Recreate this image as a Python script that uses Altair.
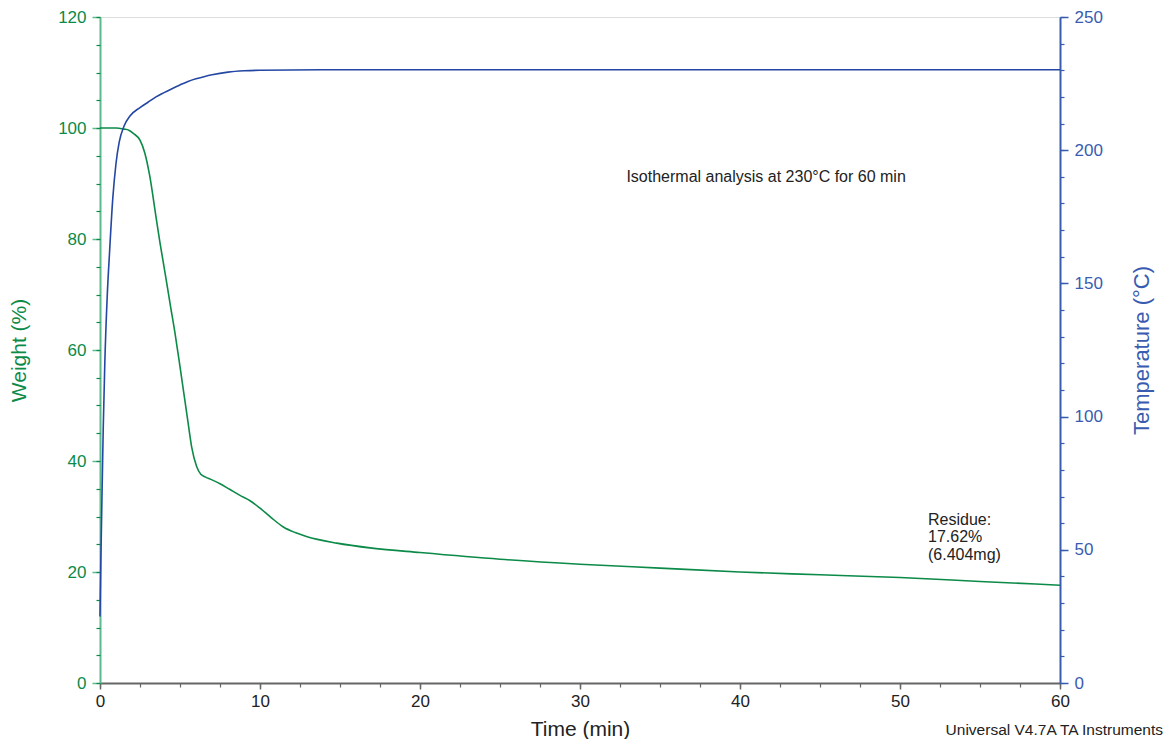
import altair as alt
import pandas as pd

# Weight curve (time in min, weight in %)
w_time = [0, 0.5, 1.0, 1.5, 1.8, 2.1, 2.5, 2.8, 3.1, 3.5, 3.75, 4.06, 4.4, 4.69, 5.0, 5.2,
          5.5, 5.73, 6.04, 6.3, 6.6, 7.0, 7.5, 8.1, 8.75, 9.4, 10.0, 10.7, 11.46, 12.2, 12.9,
          14.8, 17, 20, 25, 30, 35, 40, 45, 50, 55, 60]
w_value = [100, 100, 100, 99.8, 99.6, 99.0, 97.8, 95.5, 91.5, 84, 79.3, 74, 68, 63, 57, 53,
           47, 42.5, 39, 37.6, 37.1, 36.6, 35.9, 34.9, 33.8, 32.8, 31.5, 29.8, 28.1, 27.1, 26.4,
           25.2, 24.3, 23.5, 22.3, 21.4, 20.7, 20.0, 19.5, 19.0, 18.3, 17.62]

# Temperature curve (time in min, temperature in °C)
t_time = [0, 0.05, 0.1, 0.2, 0.3, 0.45, 0.6, 0.8, 1.0, 1.2, 1.5, 1.9, 2.5, 3.0, 3.5, 4.0,
          4.5, 5.0, 5.5, 6.0, 6.5, 7.0, 8.0, 9.0, 10, 15, 30, 45, 60]
t_value = [25, 45, 62, 95, 120, 145, 162, 182, 195, 203, 209, 213, 216, 218, 220, 221.6,
           223.1, 224.5, 225.8, 226.8, 227.6, 228.3, 229.3, 229.8, 230, 230.2, 230.2, 230.2, 230.2]

x_major = [0, 10, 20, 30, 40, 50, 60]
x_minor = [v * 2.5 for v in range(0, 25)]
w_major = [0, 20, 40, 60, 80, 100, 120]
w_minor = list(range(0, 121, 5))
t_major = [0, 50, 100, 150, 200, 250]
t_minor = list(range(0, 251, 10))

ann_iso = "Isothermal analysis at 230°C for 60 min"
ann_res = ["Residue:", "17.62%", "(6.404mg)"]
footer = "Universal V4.7A TA Instruments"

GREEN = "#0b8a48"
GREEN_AX = "#5dba8c"
BLUE = "#2447a3"
BLUE_AX = "#3a5cb0"
GRAY = "#666666"
FONT = "Liberation Sans"

wdf = pd.DataFrame({"time": w_time, "weight": w_value})
tdf = pd.DataFrame({"time": t_time, "temp": t_value})

xs = alt.Scale(domain=[0, 60], nice=False)
ws = alt.Scale(domain=[0, 120], nice=False)
ts = alt.Scale(domain=[0, 250], nice=False)

weight = alt.Chart(wdf).mark_line(color=GREEN, strokeWidth=1.6, interpolate="monotone").encode(
    x=alt.X("time:Q", scale=xs, axis=alt.Axis(
        orient="bottom", values=x_major, title="Time (min)", titleFontSize=21, titleFont=FONT,
        titleFontWeight="normal", titleColor="#222222", titleY=52, titleBaseline="alphabetic",
        labelFont=FONT, labelFontSize=17, labelColor="#222222", labelPadding=4,
        domainColor=GRAY, domainWidth=2, tickColor=GRAY, tickSize=6, tickWidth=1.5,
        grid=False, labelFlush=False)),
    y=alt.Y("weight:Q", scale=ws, axis=alt.Axis(
        orient="left", values=w_major, title="Weight (%)", titleFontSize=21,
        titleFont=FONT, titleFontWeight="normal", titleColor=GREEN,
        titleX=-81, titleY=333, titleAngle=-90, titleAlign="center", titleBaseline="middle",
        labelFont=FONT, labelFontSize=17, labelColor=GREEN, labelPadding=6,
        domainColor=GREEN_AX, domainWidth=2, tickColor=GREEN_AX, tickSize=8, tickWidth=1.5,
        grid=False, labelFlush=False)),
)

weight_minor = alt.Chart(wdf).mark_line(opacity=0).encode(
    x=alt.X("time:Q", scale=xs, axis=alt.Axis(
        orient="bottom", values=x_minor, labels=False, title=None, domain=False,
        tickColor=GRAY, tickSize=4, tickWidth=1.2, grid=False)),
    y=alt.Y("weight:Q", scale=ws, axis=alt.Axis(
        orient="left", values=w_minor, labels=False, title=None, domain=False,
        tickColor=GREEN, tickSize=4, tickWidth=1.2, grid=False)),
)

temp = alt.Chart(tdf).mark_line(color=BLUE, strokeWidth=1.6, interpolate="monotone").encode(
    x=alt.X("time:Q", scale=xs, axis=None),
    y=alt.Y("temp:Q", scale=ts, axis=alt.Axis(
        orient="right", values=t_major, title="Temperature (°C)", titleFontSize=22,
        titleFont=FONT, titleFontWeight="normal", titleColor=BLUE_AX,
        titleX=81, titleY=333, titleAngle=-90, titleAlign="center", titleBaseline="middle",
        labelFont=FONT, labelFontSize=17, labelColor=BLUE_AX, labelPadding=6,
        domainColor=BLUE_AX, domainWidth=2, tickColor=BLUE_AX, tickSize=8, tickWidth=1.5,
        grid=False, labelFlush=False)),
)

temp_minor = alt.Chart(tdf).mark_line(opacity=0).encode(
    x=alt.X("time:Q", scale=xs, axis=None),
    y=alt.Y("temp:Q", scale=ts, axis=alt.Axis(
        orient="right", values=t_minor, labels=False, title=None, domain=False,
        tickColor=BLUE_AX, tickSize=4, tickWidth=1.2, grid=False)),
)

iso_df = pd.DataFrame({"time": [32.9], "weight": [91.2], "text": [ann_iso]})
iso = alt.Chart(iso_df).mark_text(align="left", baseline="middle", font=FONT,
                                  fontSize=16, color="#222222").encode(
    x=alt.X("time:Q", scale=xs, axis=None), y=alt.Y("weight:Q", scale=ws, axis=None),
    text="text:N")

res_df = pd.DataFrame({"time": [51.75], "weight": [29.4], "text": [ann_res]})
res = alt.Chart(res_df).mark_text(align="left", baseline="middle", font=FONT,
                                  fontSize=16, color="#222222", lineHeight=17.5).encode(
    x=alt.X("time:Q", scale=xs, axis=None), y=alt.Y("weight:Q", scale=ws, axis=None),
    text="text:N")

foot = alt.Chart(pd.DataFrame({"text": [footer]})).mark_text(
    align="right", baseline="middle", font=FONT, fontSize=15.5, color="#222222").encode(
    x=alt.value(1063), y=alt.value(713), text="text:N")

chart = alt.layer(weight, weight_minor, iso, res, foot, temp, temp_minor).resolve_scale(
    y="independent").resolve_axis(x="independent", y="independent").properties(
    width=960, height=666,
    padding={"left": 92, "top": 9, "right": 105, "bottom": 56},
    autosize=alt.AutoSizeParams(type="none"),
).configure_view(stroke=GRAY, strokeWidth=2).configure(background="white")

chart.save("out.html", embed_options={"renderer": "svg", "actions": False})
